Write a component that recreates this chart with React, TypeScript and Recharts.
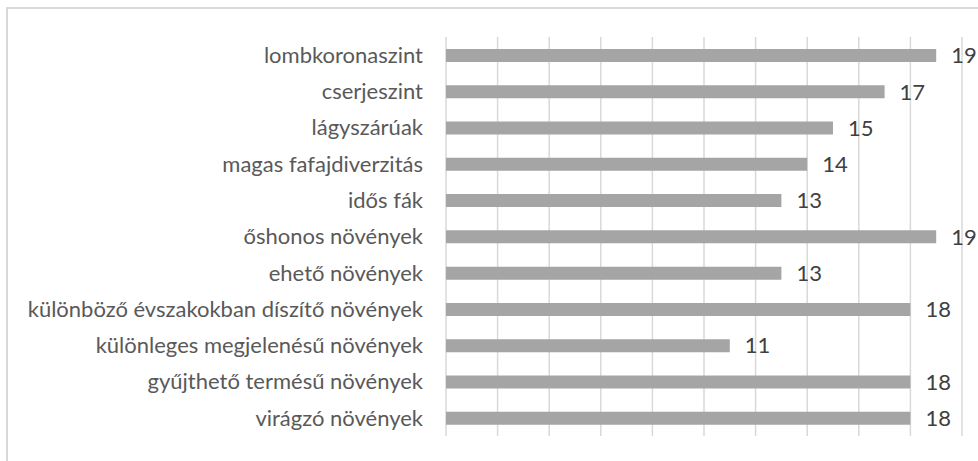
import React from "react";
import { BarChart, Bar, XAxis, YAxis, CartesianGrid, LabelList } from "recharts";

const categories = [
  "lombkoronaszint",
  "cserjeszint",
  "lágyszárúak",
  "magas fafajdiverzitás",
  "idős fák",
  "őshonos növények",
  "ehető növények",
  "különböző évszakokban díszítő növények",
  "különleges megjelenésű növények",
  "gyűjthető termésű növények",
  "virágzó növények",
];
const values = [19, 17, 15, 14, 13, 19, 13, 18, 11, 18, 18];
const xTicks = [0, 2, 4, 6, 8, 10, 12, 14, 16, 18, 20];

const data = categories.map((name, i) => ({ name, value: values[i] }));

const FONT = "Lato, 'Open Sans', sans-serif";

export default function App() {
  return (
    <div
      style={{
        position: "absolute",
        left: 0,
        top: 0,
        width: 978,
        height: 461,
        overflow: "hidden",
        background: "#ffffff",
      }}
    >
      <div
        style={{
          position: "absolute",
          left: 6,
          top: 7,
          width: 1100,
          height: 600,
          border: "2px solid #d9d9d9",
          boxSizing: "border-box",
        }}
      />
      <div style={{ position: "absolute", left: 0, top: 0 }}>
        <BarChart
          width={978}
          height={461}
          data={data}
          layout="vertical"
          margin={{ top: 37, right: 16, bottom: 25, left: 0 }}
          barCategoryGap={0}
        >
          <CartesianGrid horizontal={false} vertical={true} stroke="#d9d9d9" strokeWidth={1.5} />
          <XAxis type="number" domain={[0, 20]} ticks={xTicks} hide />
          <YAxis
            type="category"
            dataKey="name"
            width={446}
            axisLine={false}
            tickLine={false}
            tickSize={6}
            tickMargin={17}
            interval={0}
            tick={{ fill: "#595959", fontSize: 22, fontFamily: FONT }}
          />
          <Bar dataKey="value" fill="#a5a5a5" barSize={13} isAnimationActive={false}>
            <LabelList
              dataKey="value"
              position="right"
              offset={15}
              fill="#404040"
              fontSize={22}
              fontFamily={FONT}
            />
          </Bar>
        </BarChart>
      </div>
    </div>
  );
}
